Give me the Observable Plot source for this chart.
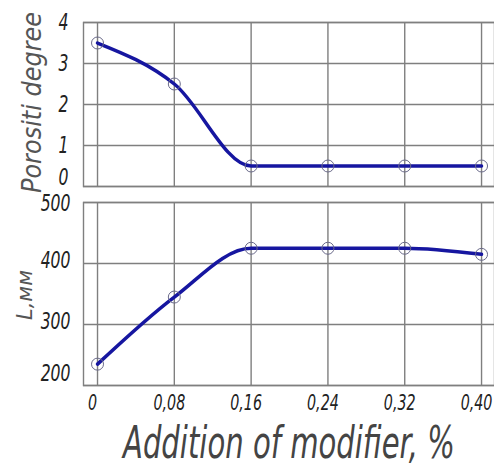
<!DOCTYPE html>
<html>
<head>
<meta charset="utf-8">
<script src="https://cdn.jsdelivr.net/npm/d3@7"></script>
<script src="https://cdn.jsdelivr.net/npm/@observablehq/plot@0.6"></script>
<style>
  html, body { margin: 0; padding: 0; background: #fff; }
  #chart { width: 494px; height: 465px; overflow: hidden; background: #fff; }
  #chart svg { display: block; overflow: visible; }
</style>
</head>
<body>
<div id="chart"></div>
<script>
const additions = [0, 0.08, 0.16, 0.24, 0.32, 0.40];
const porosity = [3.5, 2.5, 0.5, 0.5, 0.5, 0.5];
const lengthMM = [235, 345, 425, 425, 425, 415];
const xTickLabels = ["0", "0,08", "0,16", "0,24", "0,32", "0,40"];
const porosityTicks = [0, 1, 2, 3, 4];
const lengthTicks = [200, 300, 400, 500];
const xLabel = "Addition of modifier, %";
const porosityLabel = "Porositi degree";
const lengthLabel = "L,мм";

const topData = additions.map((x, i) => ({x, y: porosity[i]}));
const botData = additions.map((x, i) => ({x, y: lengthMM[i]}));

const font = "'DejaVu Sans', sans-serif";
const gridColor = "#7f7f7f";
const lineColor = "#1616a0";
const xDomain = [-0.0146, 0.4135];
const fmtX = d => xTickLabels[additions.indexOf(d)];

const common = {
  width: 494,
  marginLeft: 83,
  marginRight: 0,
  style: {fontFamily: font, fontStyle: "italic", background: "transparent", overflow: "visible"}
};

const topPlot = Plot.plot({
  ...common,
  height: 192,
  marginTop: 22,
  marginBottom: 6,
  x: {domain: xDomain, axis: null},
  y: {domain: [0, 4], axis: null},
  marks: [
    Plot.gridX(additions, {stroke: gridColor, strokeOpacity: 1, strokeWidth: 1.4}),
    Plot.gridY(porosityTicks, {stroke: gridColor, strokeOpacity: 1, strokeWidth: 1.4}),
    Plot.frame({stroke: gridColor, strokeWidth: 1.4}),
    Plot.axisY(porosityTicks.slice(1), {tickSize: 0, tickPadding: 15, fontSize: 23, fill: "#222", label: null}),
    Plot.axisY(porosityTicks.slice(0, 1), {tickSize: 0, tickPadding: 15, fontSize: 23, fill: "#222", dy: -9, label: null}),
    Plot.line(topData, {x: "x", y: "y", stroke: lineColor, strokeWidth: 3.5, curve: "monotone-x"}),
    Plot.dot(topData, {x: "x", y: "y", r: 6, stroke: "#6a6a8a", strokeWidth: 1, fill: "none"}),
    Plot.text([porosityLabel], {frameAnchor: "left", dx: -51, dy: -2, rotate: -90, textAnchor: "middle", lineAnchor: "middle", fontSize: 27, fill: "#555"})
  ]
});

const bottomPlot = Plot.plot({
  ...common,
  height: 273,
  marginTop: 10,
  marginBottom: 80,
  x: {domain: xDomain, axis: null},
  y: {domain: [200, 500], axis: null},
  marks: [
    Plot.gridX(additions, {stroke: gridColor, strokeOpacity: 1, strokeWidth: 1.4}),
    Plot.gridY(lengthTicks, {stroke: gridColor, strokeOpacity: 1, strokeWidth: 1.4}),
    Plot.frame({stroke: gridColor, strokeWidth: 1.4}),
    Plot.axisY(lengthTicks.slice(1, 3), {tickSize: 0, tickPadding: 13, fontSize: 23, fill: "#222", dy: -3, label: null}),
    Plot.axisY(lengthTicks.slice(3), {tickSize: 0, tickPadding: 13, fontSize: 23, fill: "#222", dy: 1, label: null}),
    Plot.axisY(lengthTicks.slice(0, 1), {tickSize: 0, tickPadding: 13, fontSize: 23, fill: "#222", dy: -12, label: null}),
    Plot.axisX(additions, {tickSize: 0, tickPadding: 10, fontSize: 21, fill: "#222", tickFormat: fmtX, dx: -5, label: null}),
    Plot.line(botData, {x: "x", y: "y", stroke: lineColor, strokeWidth: 3.5, curve: "monotone-x"}),
    Plot.dot(botData, {x: "x", y: "y", r: 6, stroke: "#6a6a8a", strokeWidth: 1, fill: "none"}),
    Plot.text([lengthLabel], {frameAnchor: "left", dx: -58, dy: 1, rotate: -90, textAnchor: "middle", lineAnchor: "middle", fontSize: 21, fill: "#555"}),
    Plot.text([xLabel], {frameAnchor: "bottom", dy: 58, textAnchor: "middle", lineAnchor: "middle", fontSize: 44, fill: "#444"})
  ]
});

const chart = document.getElementById("chart");
chart.appendChild(topPlot);
chart.appendChild(bottomPlot);

// narrow, drafting-style lettering: squeeze each text horizontally
const targetLengths = {[porosityLabel]: 181, [lengthLabel]: 50, [xLabel]: 332};
chart.querySelectorAll("text").forEach(t => {
  const s = t.textContent;
  const len = t.getComputedTextLength();
  if (!len) return;
  const target = targetLengths[s] !== undefined ? targetLengths[s] : len * 0.68;
  t.setAttribute("textLength", target);
  t.setAttribute("lengthAdjust", "spacingAndGlyphs");
});
</script>
</body>
</html>
